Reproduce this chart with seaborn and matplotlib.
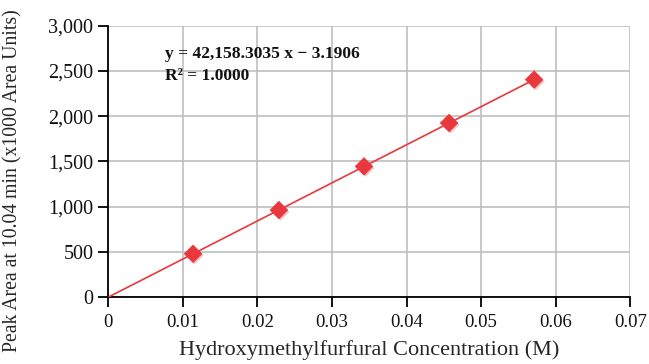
import numpy as np
import pandas as pd
import matplotlib
matplotlib.use("Agg")
import matplotlib.pyplot as plt
import matplotlib.patheffects as pe
import seaborn as sns

# Calibration data: HMF concentration (M) vs peak area at 10.04 min (x1000 area units)
concentration = [0.0114, 0.0229, 0.0343, 0.0457, 0.0571]
peak_area = [478, 962, 1445, 1925, 2405]

x_ticks = [0, 0.01, 0.02, 0.03, 0.04, 0.05, 0.06, 0.07]
x_tick_labels = ["0", "0.01", "0.02", "0.03", "0.04", "0.05", "0.06", "0.07"]
y_ticks = [0, 500, 1000, 1500, 2000, 2500, 3000]
y_tick_labels = ["0", "500", "1,000", "1,500", "2,000", "2,500", "3,000"]

equation_text = "y = 42,158.3035 x \u2212 3.1906"
r2_text = "R\u00b2 = 1.0000"

df = pd.DataFrame({"conc": concentration, "area": peak_area})

sns.set_style("ticks")
plt.rcParams["font.family"] = ["Liberation Serif", "DejaVu Serif"]

fig = plt.figure(figsize=(6.49, 3.64), dpi=100)
ax = fig.add_axes([0.1664, 0.184, 0.805, 0.745])

red = "#E8383D"

# linear trendline through the calibration points, from the origin to the last standard
slope, intercept = np.polyfit(df["conc"], df["area"], 1)
fit = pd.DataFrame({"conc": [0.0, df["conc"].max()]})
fit["area"] = slope * fit["conc"] + intercept
sns.lineplot(data=fit, x="conc", y="area", ax=ax, color=red, linewidth=1.2, zorder=3)

sns.scatterplot(data=df, x="conc", y="area", ax=ax, marker="D", s=80,
                color=red, edgecolor=red, linewidth=0.5, zorder=4,
                path_effects=[pe.SimplePatchShadow(offset=(1.2, -1.2),
                                                   shadow_rgbFace="#F6B3B5", alpha=0.8),
                              pe.Normal()])

ax.set_xlim(0, 0.07)
ax.set_ylim(0, 3000)
ax.set_xticks(x_ticks)
ax.set_xticklabels(x_tick_labels)
ax.set_yticks(y_ticks)
ax.set_yticklabels(y_tick_labels)

ax.grid(True, color="#BFBFBF", linewidth=1.2)
ax.set_axisbelow(True)
for side in ("top", "right"):
    ax.spines[side].set_visible(False)
for side in ("left", "bottom"):
    ax.spines[side].set_color("black")
    ax.spines[side].set_linewidth(1.3)
ax.tick_params(axis="both", direction="out", length=7, width=1.3, color="black",
               labelcolor="#111111")
ax.tick_params(axis="y", pad=3.5, labelsize=14.5)
ax.tick_params(axis="x", pad=5, labelsize=13.5)

ax.set_xlabel("Hydroxymethylfurfural Concentration (M)", fontsize=16, labelpad=7)
ax.set_ylabel("Peak Area at 10.04 min (x1000 Area Units)", fontsize=14.2)
ax.yaxis.set_label_coords(-0.163, 0.43)

ax.text(0.0077, 2690, equation_text, fontsize=12.6, fontweight="bold",
        va="center", ha="left", color="#111111")
ax.text(0.0077, 2440, r2_text, fontsize=12.6, fontweight="bold",
        va="center", ha="left", color="#111111")

fig.savefig("out.png", dpi=100)
